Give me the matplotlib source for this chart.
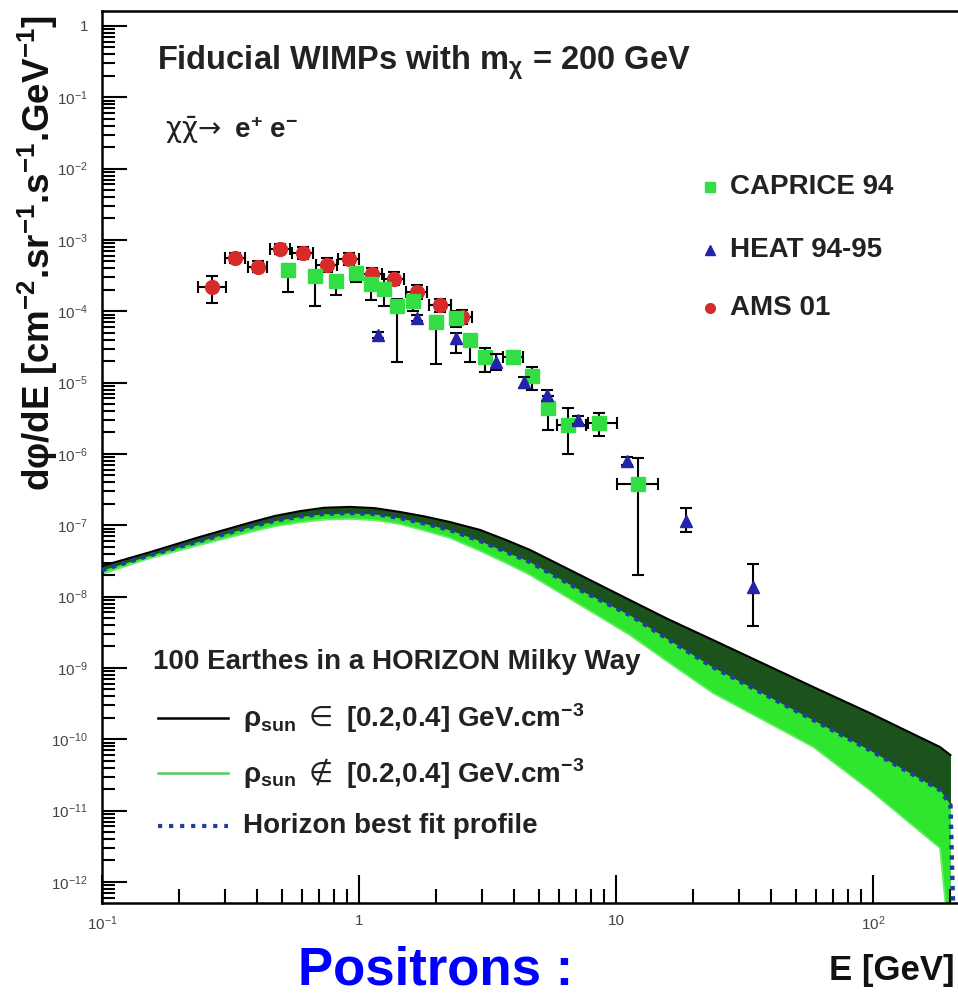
import numpy as np
import matplotlib.pyplot as plt
from matplotlib.lines import Line2D
from matplotlib.ticker import LogLocator, NullFormatter

plt.rcParams['font.family'] = ['Liberation Sans', 'DejaVu Sans']
plt.rcParams['mathtext.default'] = 'regular'

# CAPRICE 94
cap_E = [0.529, 0.674, 0.814, 0.973, 1.114, 1.252, 1.406, 1.622, 1.993, 2.385, 2.70, 3.09, 3.97, 4.71, 5.44, 6.50, 8.59, 12.18]
cap_F = [3.8e-4, 3.13e-4, 2.66e-4, 3.44e-4, 2.42e-4, 2.06e-4, 1.19e-4, 1.40e-4, 7.1e-5, 8.05e-5, 3.96e-5, 2.29e-5, 2.29e-5, 1.24e-5, 4.41e-6, 2.55e-6, 2.72e-6, 3.8e-7]
cap_Flo = [1.87e-4, 1.19e-4, 1.69e-4, 2.6e-4, 1.44e-4, 1.19e-4, 1.95e-5, 1.0e-4, 1.83e-5, 6.0e-5, 1.95e-5, 1.41e-5, 1.9e-5, 7.9e-6, 2.17e-6, 1.0e-6, 1.79e-6, 2.0e-8]
cap_Fhi = [4.6e-4, 3.6e-4, 3.1e-4, 3.9e-4, 2.8e-4, 2.4e-4, 1.5e-4, 1.7e-4, 8.5e-5, 1.0e-4, 4.6e-5, 3.06e-5, 2.7e-5, 1.66e-5, 6.5e-6, 4.41e-6, 3.75e-6, 8.8e-7]
cap_Elo = [0.51, 0.65, 0.79, 0.94, 1.08, 1.21, 1.36, 1.57, 1.93, 2.31, 2.61, 2.99, 3.63, 4.55, 5.26, 5.89, 7.78, 10.1]
cap_Ehi = [0.55, 0.70, 0.84, 1.01, 1.15, 1.29, 1.45, 1.68, 2.06, 2.47, 2.79, 3.20, 4.35, 4.87, 5.63, 7.64, 10.1, 14.6]

# HEAT 94-95
heat_E = [1.186, 1.68, 2.385, 3.41, 4.39, 5.39, 7.11, 11.0, 18.7, 34.1]
heat_F = [4.65e-5, 8.05e-5, 4.23e-5, 1.95e-5, 1.02e-5, 6.7e-6, 2.99e-6, 7.97e-7, 1.15e-7, 1.36e-8]
heat_Flo = [4.2e-5, 7.2e-5, 2.6e-5, 1.5e-5, 8.5e-6, 5.5e-6, 2.6e-6, 7.0e-7, 8.05e-8, 3.87e-9]
heat_Fhi = [5.1e-5, 9.0e-5, 5.0e-5, 2.5e-5, 1.2e-5, 8.0e-6, 3.4e-6, 9.0e-7, 1.75e-7, 2.87e-8]

# AMS 01
ams_E = [0.268, 0.329, 0.405, 0.493, 0.606, 0.751, 0.915, 1.124, 1.37, 1.68, 2.07, 2.52]
ams_F = [2.19e-4, 5.6e-4, 4.18e-4, 7.48e-4, 6.57e-4, 4.46e-4, 5.41e-4, 3.34e-4, 2.84e-4, 1.87e-4, 1.23e-4, 8.3e-5]
ams_Flo = [1.31e-4, 4.7e-4, 3.5e-4, 6.3e-4, 5.4e-4, 3.6e-4, 4.5e-4, 2.7e-4, 2.3e-4, 1.5e-4, 9.8e-5, 6.6e-5]
ams_Fhi = [3.13e-4, 6.6e-4, 5.0e-4, 8.9e-4, 7.9e-4, 5.5e-4, 6.5e-4, 4.1e-4, 3.5e-4, 2.3e-4, 1.5e-4, 1.05e-4]
ams_Elo = [0.236, 0.30, 0.37, 0.45, 0.55, 0.68, 0.83, 1.02, 1.25, 1.53, 1.88, 2.29]
ams_Ehi = [0.304, 0.36, 0.44, 0.54, 0.66, 0.82, 1.0, 1.23, 1.50, 1.84, 2.27, 2.76]

# 100 Horizon Earths: envelope of the curves and best fit profile
band_E = [0.1, 0.15, 0.24, 0.38, 0.47, 0.59, 0.73, 0.92, 1.15, 1.44, 1.8, 2.26, 2.96, 3.7, 4.63, 7.24, 11.3, 16, 23.8, 58.5, 97, 182, 200]
band_top = [2.69e-8, 4.09e-8, 6.86e-8, 1.1e-7, 1.35e-7, 1.58e-7, 1.76e-7, 1.81e-7, 1.74e-7, 1.54e-7, 1.33e-7, 1.11e-7, 8.6e-8, 6.3e-8, 4.51e-8, 2.01e-8, 8.97e-9, 4.8e-9, 2.47e-9, 5.41e-10, 2.34e-10, 7.8e-11, 6.0e-11]
band_bot = [2.08e-8, 3.37e-8, 5.30e-8, 8.1e-8, 9.7e-8, 1.1e-7, 1.2e-7, 1.23e-7, 1.18e-7, 1.04e-7, 8.4e-8, 6.64e-8, 4.36e-8, 3.0e-8, 2.01e-8, 7.64e-9, 2.90e-9, 1.2e-9, 4.46e-10, 7.80e-11, 1.95e-11, 3.0e-12, 1e-13]
best_E = [0.1, 0.15, 0.24, 0.38, 0.47, 0.59, 0.73, 0.92, 1.15, 1.44, 1.8, 2.26, 2.96, 3.7, 4.63, 7.24, 11.3, 16, 23.8, 58.5, 97, 182, 200, 205]
best_F = [2.36e-8, 3.71e-8, 6.03e-8, 9.6e-8, 1.16e-7, 1.33e-7, 1.45e-7, 1.49e-7, 1.44e-7, 1.27e-7, 1.06e-7, 8.6e-8, 6.03e-8, 4.3e-8, 3.06e-8, 1.24e-8, 5.53e-9, 2.5e-9, 1.03e-9, 1.87e-10, 7.08e-11, 1.95e-11, 1.2e-11, 4e-13]

x_ticks = [0.1, 1, 10, 100]
x_labels = ['10$^{-1}$', '1', '10', '10$^{2}$']
y_ticks = [10.0 ** -k for k in range(0, 13)]
y_labels = ['1'] + ['10$^{-%d}$' % k for k in range(1, 13)]

W, H = 958, 996
fx = lambda px: px / W
fy = lambda py: 1 - py / H

fig = plt.figure(figsize=(9.58, 9.96), dpi=100)
ax = fig.add_axes([fx(102), fy(903), (W - 102) / W, (903 - 11) / H])
ax.set_xscale('log')
ax.set_yscale('log')
ax.set_xlim(0.1, 214)
ax.set_ylim(5.07e-13, 1.62)

green = '#2ee62e'
dark = '#1b451b'
navy = '#1f3f99'

# band of curves
ax.fill_between(band_E, band_bot, band_top, color=green, lw=0, zorder=1)
ax.plot(band_E, band_bot, color='#66ee66', lw=1.2, zorder=1)
ax.fill_between(band_E, best_F[:-1], band_top, color=dark, lw=0, alpha=0.92, zorder=2)
ax.plot(band_E, band_top, color='black', lw=1.5, zorder=2)
ax.plot(best_E, best_F, color=navy, lw=3.2, ls=(0, (1, 1.3)), zorder=3)

# data
E = np.array(cap_E)
F = np.array(cap_F)
ax.errorbar(E, F, xerr=[E - np.array(cap_Elo), np.array(cap_Ehi) - E],
            yerr=[F - np.array(cap_Flo), np.array(cap_Fhi) - F],
            fmt='s', ms=10, color='#33dd44', mec='#33dd44', ecolor='black',
            elinewidth=1.5, capsize=4, capthick=1.5, zorder=5)
E = np.array(heat_E)
F = np.array(heat_F)
ax.errorbar(E, F, yerr=[F - np.array(heat_Flo), np.array(heat_Fhi) - F],
            fmt='^', ms=8, color='#2424aa', mec='#2424aa', ecolor='black',
            elinewidth=1.5, capsize=4, capthick=1.5, zorder=6)
E = np.array(ams_E)
F = np.array(ams_F)
ax.errorbar(E, F, xerr=[E - np.array(ams_Elo), np.array(ams_Ehi) - E],
            yerr=[F - np.array(ams_Flo), np.array(ams_Fhi) - F],
            fmt='o', ms=10, color='#d92a2a', mec='#d92a2a', ecolor='black',
            elinewidth=1.5, capsize=4, capthick=1.5, zorder=4)

# axes styling
ax.set_xticks(x_ticks)
ax.set_xticklabels(x_labels)
ax.set_yticks(y_ticks)
ax.set_yticklabels(y_labels)
ax.xaxis.set_minor_locator(LogLocator(base=10, subs=range(2, 10), numticks=20))
ax.yaxis.set_minor_locator(LogLocator(base=10, subs=range(2, 10), numticks=20))
ax.xaxis.set_minor_formatter(NullFormatter())
ax.yaxis.set_minor_formatter(NullFormatter())
ax.tick_params(axis='x', which='major', direction='in', length=20, width=1.5, pad=8,
               labelsize=11, labelcolor='#444444', top=False)
ax.tick_params(axis='x', which='minor', direction='in', length=10, width=1.5, top=False)
ax.tick_params(axis='y', which='major', direction='in', length=18, width=1.5, pad=10,
               labelsize=11, labelcolor='#444444', right=False)
ax.tick_params(axis='y', which='minor', direction='in', length=9, width=1.5, right=False)
ax.spines['right'].set_visible(False)
for s in ['left', 'bottom', 'top']:
    ax.spines[s].set_linewidth(1.8)

# texts
fig.text(fx(157), fy(63), r'Fiducial WIMPs with m$_{\chi}$ = 200 GeV', fontsize=23.5,
         fontweight='bold', color='#222222', va='center')
fig.text(fx(165), fy(130), r'$\mathrm{\chi\bar{\chi}\!\rightarrow}$ e$^{+}$ e$^{-}$', fontsize=20,
         fontweight='bold', color='#222222', va='center')

top_leg = [('CAPRICE 94', 's', '#33dd44', 187), ('HEAT 94-95', '^', '#2424aa', 250),
           ('AMS 01', 'o', '#d92a2a', 308)]
for lab, mk, col, py in top_leg:
    fig.add_artist(Line2D([fx(710)], [fy(py)], marker=mk, ms=7, color=col, ls='none',
                          transform=fig.transFigure))
    fig.text(fx(730), fy(py), lab, fontsize=20, fontweight='bold', color='#222222', va='center')

fig.text(fx(153), fy(662), '100 Earthes in a HORIZON Milky Way', fontsize=20,
         fontweight='bold', color='#222222', va='center')
bot_leg = [(r'ρ$_{sun}$ $\mathrm{\in}$ [0.2,0.4] GeV.cm$^{-3}$', 'black', '-', 718),
           (r'ρ$_{sun}$ $\mathrm{\notin}$ [0.2,0.4] GeV.cm$^{-3}$', '#55cc55', '-', 773),
           ('Horizon best fit profile', navy, ':', 826)]
for lab, col, ls, py in bot_leg:
    lw = 3 if ls == ':' else 1.8
    fig.add_artist(Line2D([fx(158), fx(228)], [fy(py), fy(py)], color=col, ls=ls, lw=lw,
                          transform=fig.transFigure))
    fig.text(fx(243), fy(py), lab, fontsize=20, fontweight='bold', color='#222222', va='center')

fig.text(fx(38), fy(253), r'dφ/dE [cm$^{-2}$.sr$^{-1}$.s$^{-1}$.GeV$^{-1}$]', fontsize=26.5,
         fontweight='bold', rotation=90, ha='center', va='center', color='#111111')
fig.text(fx(892), fy(970), 'E [GeV]', fontsize=25, fontweight='bold', ha='center',
         va='center', color='#111111')
fig.text(fx(436), fy(970), 'Positrons :', fontsize=38, fontweight='bold', ha='center',
         va='center', color='#0000ff')

plt.savefig('out.png', dpi=100)
